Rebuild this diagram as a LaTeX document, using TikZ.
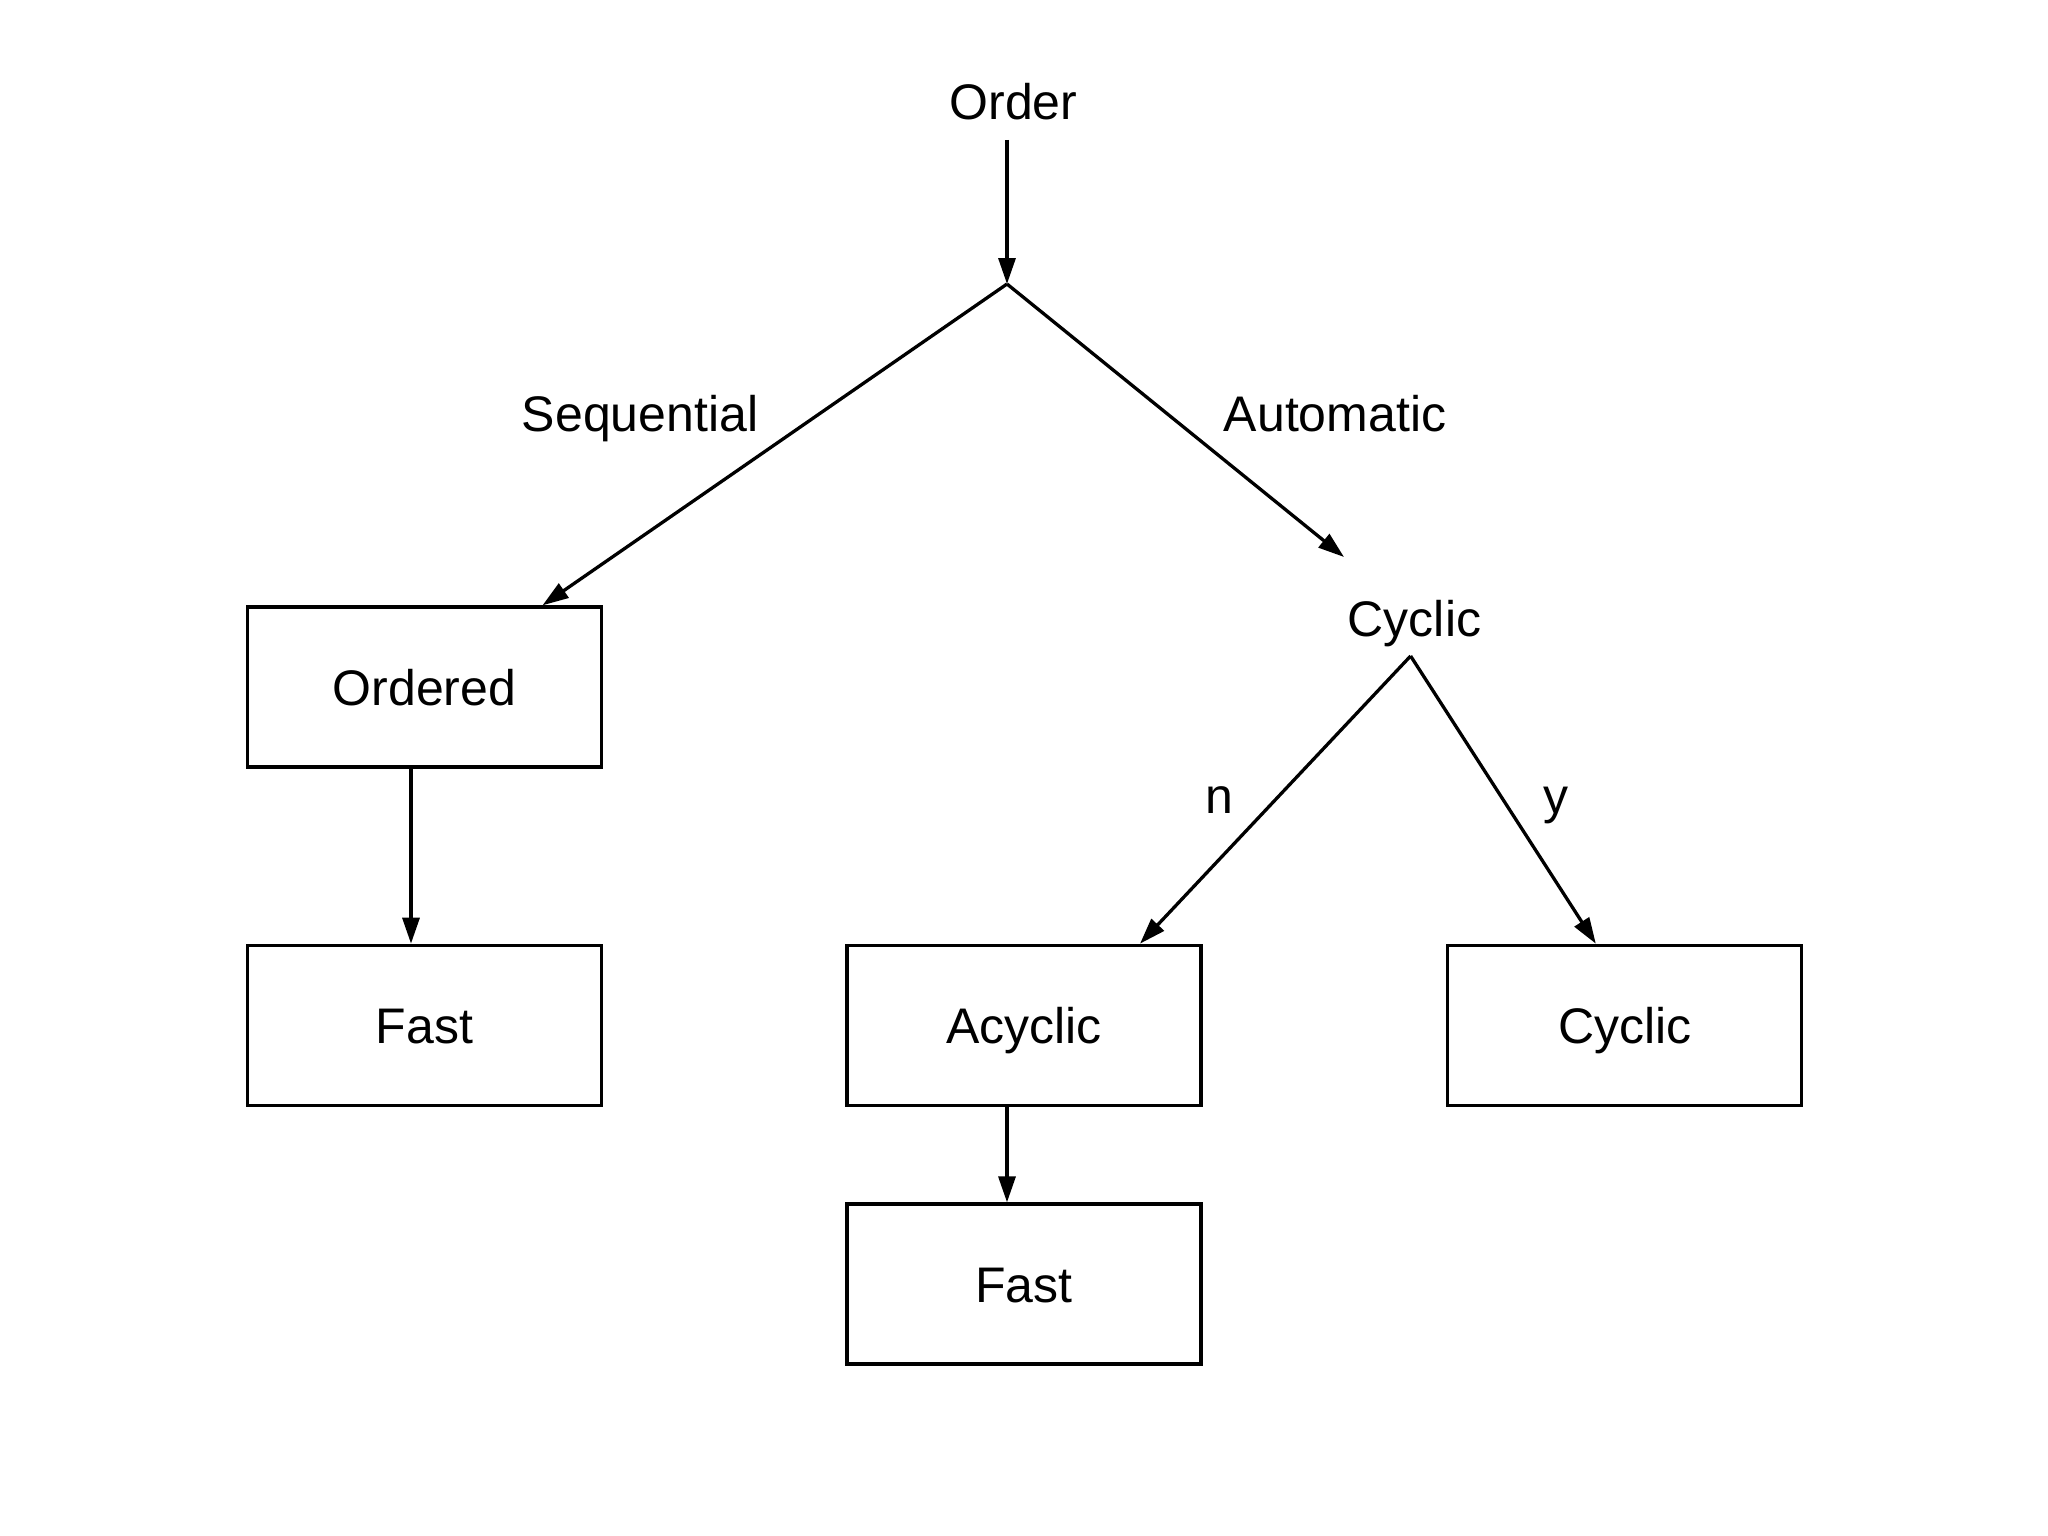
\documentclass[tikz,border=0pt]{standalone}
\usepackage{fontspec}
\setmainfont{Liberation Sans}
\usetikzlibrary{arrows.meta}
\begin{document}
\begin{tikzpicture}[x=1pt,y=-1pt,
  lbl/.style={font=\fontsize{50}{60}\selectfont, inner sep=0pt, text height=36pt, text depth=0pt},
  box/.style={draw, line width=3.3pt, minimum width=354pt, minimum height=160pt, inner sep=0pt, text height=36pt, text depth=0pt, font=\fontsize{50}{60}\selectfont},
  conn/.style={line width=3.3pt, -{Triangle[length=26pt,width=17pt]}}]
\useasboundingbox (0,0) rectangle (2048,1536);
\node[lbl] (order) at (1013.5,102) {Order};
\coordinate (top) at (1007,140);
\coordinate (branch) at (1007,284);
\node[lbl] (seq) at (640,413) {Sequential};
\node[lbl] (auto) at (1335,413) {Automatic};
\coordinate (autoend) at (1344,557);
\node[box] (ordered) at (424.5,687) {Ordered};
\node[box] (fast1) at (424.5,1025.3) {Fast};
\node[lbl] (cyclab) at (1414.5,618.5) {Cyclic};
\coordinate (cycpt) at (1410.6,656);
\node[lbl] (n) at (1219,795) {n};
\node[lbl] (y) at (1555.5,795) {y};
\node[box] (acyclic) at (1024,1025.3) {Acyclic};
\node[box] (cyclic) at (1624.8,1025.3) {Cyclic};
\node[box] (fast2) at (1024,1284) {Fast};
\draw[conn] (top) -- (branch);
\draw[conn] (branch) -- ([xshift=118pt]ordered.north);
\draw[conn] (branch) -- (autoend);
\draw[conn] ([xshift=-13.5pt]ordered.south) -- ([xshift=-13.5pt]fast1.north);
\draw[conn] (cycpt) -- ([xshift=116pt]acyclic.north);
\draw[conn] (cycpt) -- ([xshift=-29pt]cyclic.north);
\draw[conn] ([xshift=-17pt]acyclic.south) -- ([xshift=-17pt]fast2.north);
\end{tikzpicture}
\end{document}
